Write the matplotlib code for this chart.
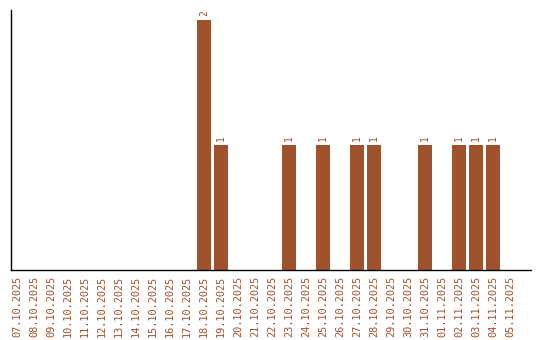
import matplotlib
matplotlib.use('Agg')
import matplotlib.pyplot as plt
import numpy as np

# dates and counts
dates = ['07.10.2025', '08.10.2025', '09.10.2025', '10.10.2025', '11.10.2025',
         '12.10.2025', '13.10.2025', '14.10.2025', '15.10.2025', '16.10.2025',
         '17.10.2025', '18.10.2025', '19.10.2025', '20.10.2025', '21.10.2025',
         '22.10.2025', '23.10.2025', '24.10.2025', '25.10.2025', '26.10.2025',
         '27.10.2025', '28.10.2025', '29.10.2025', '30.10.2025', '31.10.2025',
         '01.11.2025', '02.11.2025', '03.11.2025', '04.11.2025', '05.11.2025']
counts = [0, 0, 0, 0, 0, 0, 0, 0, 0, 0,
          0, 2, 1, 0, 0, 0, 1, 0, 1, 0,
          1, 1, 0, 0, 1, 0, 1, 1, 1, 0]

color = '#a0522d'

fig = plt.figure(figsize=(5.4, 3.4), dpi=100)
ax = fig.add_axes([11/540, 70/340, 520/540, 260/340])

x = np.arange(len(dates))
bars = ax.bar(x, counts, width=0.82, color=color)

for xi, c in zip(x, counts):
    if c > 0:
        ax.text(xi, c + 0.03, str(c), rotation=90, ha='center', va='bottom',
                color=color, fontsize=7, family='DejaVu Sans Mono')

ax.set_xlim(-0.35, 30.24)
ax.set_ylim(0, 2.08)
ax.set_xticks(x)
ax.set_xticklabels(dates, rotation=90, color=color, fontsize=7.4,
                   family='DejaVu Sans Mono')
ax.tick_params(axis='x', length=0, pad=4)
ax.set_yticks([])
ax.spines['top'].set_visible(False)
ax.spines['right'].set_visible(False)
ax.spines['left'].set_linewidth(1)
ax.spines['bottom'].set_linewidth(1)

plt.savefig('out.png', dpi=100)
